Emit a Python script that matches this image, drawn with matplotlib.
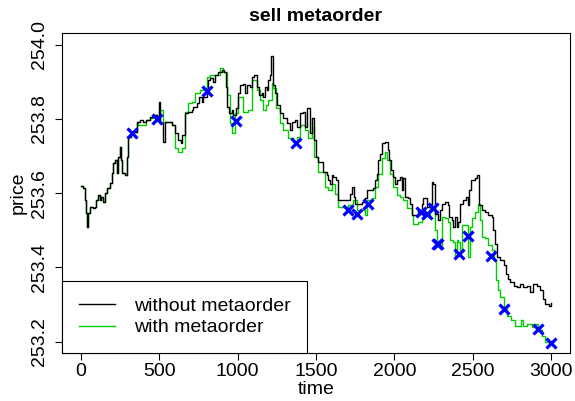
import matplotlib
matplotlib.use("Agg")
import matplotlib.pyplot as plt

plt.rcParams['font.family'] = ['Liberation Sans', 'DejaVu Sans']

# price path without the metaorder
t_without = [0, 15, 26, 36, 38, 47, 57, 79, 89, 100, 110, 121, 132, 140, 153, 164, 172, 185,
             196, 206, 217, 228, 238, 249, 255, 264, 281, 292, 302, 319, 334, 356, 377, 398,
             419, 440, 462, 483, 498, 504, 525, 536, 557, 579, 600, 621, 638, 647, 664, 685,
             707, 717, 739, 753, 770, 781, 802, 813, 823, 844, 855, 876, 898, 915, 924, 934,
             945, 962, 972, 987, 1000, 1015, 1036, 1047, 1058, 1079, 1090, 1106, 1121, 1136,
             1153, 1164, 1174, 1185, 1196, 1206, 1211, 1228, 1238, 1249, 1270, 1291, 1313,
             1334, 1345, 1366, 1377, 1398, 1419, 1430, 1440, 1462, 1476, 1489, 1498, 1515,
             1536, 1547, 1568, 1579, 1589, 1600, 1610, 1626, 1638, 1642, 1706, 1717, 1732,
             1743, 1749, 1792, 1813, 1824, 1866, 1877, 1887, 1898, 1908, 1919, 1940, 1958,
             1966, 1979, 1993, 2004, 2015, 2036, 2047, 2057, 2068, 2085, 2100, 2110, 2132,
             2153, 2175, 2185, 2207, 2228, 2238, 2249, 2260, 2281, 2292, 2302, 2323, 2340,
             2349, 2366, 2376, 2387, 2398, 2408, 2419, 2440, 2455, 2468, 2477, 2489, 2511,
             2526, 2536, 2540, 2558, 2579, 2600, 2621, 2632, 2643, 2653, 2674, 2696, 2711,
             2724, 2738, 2760, 2781, 2802, 2823, 2845, 2866, 2881, 2909, 2930, 2945, 2962,
             2983, 3000]
p_without = [253.619, 253.614, 253.581, 253.546, 253.509, 253.546, 253.563, 253.559, 253.563,
             253.581, 253.595, 253.581, 253.590, 253.576, 253.600, 253.614, 253.614, 253.627,
             253.654, 253.681, 253.689, 253.654, 253.698, 253.725, 253.689, 253.654, 253.649,
             253.698, 253.752, 253.762, 253.766, 253.793, 253.797, 253.793, 253.797, 253.806,
             253.811, 253.802, 253.847, 253.789, 253.739, 253.793, 253.793, 253.784, 253.762,
             253.743, 253.734, 253.757, 253.815, 253.820, 253.824, 253.833, 253.843, 253.860,
             253.847, 253.860, 253.869, 253.905, 253.910, 253.901, 253.919, 253.928, 253.932,
             253.928, 253.887, 253.833, 253.815, 253.824, 253.811, 253.829, 253.869, 253.892,
             253.895, 253.869, 253.892, 253.887, 253.914, 253.919, 253.887, 253.865, 253.869,
             253.860, 253.887, 253.878, 253.905, 253.919, 253.970, 253.892, 253.869, 253.838,
             253.815, 253.802, 253.788, 253.770, 253.793, 253.797, 253.779, 253.815, 253.820,
             253.779, 253.829, 253.761, 253.802, 253.743, 253.698, 253.685, 253.685, 253.658,
             253.649, 253.635, 253.626, 253.649, 253.644, 253.635, 253.608, 253.581, 253.581,
             253.599, 253.617, 253.590, 253.572, 253.576, 253.586, 253.608, 253.613, 253.635,
             253.653, 253.689, 253.707, 253.734, 253.739, 253.716, 253.689, 253.662, 253.644,
             253.626, 253.635, 253.644, 253.608, 253.640, 253.590, 253.586, 253.572, 253.541,
             253.541, 253.554, 253.572, 253.586, 253.563, 253.572, 253.631, 253.626, 253.545,
             253.527, 253.554, 253.572, 253.576, 253.568, 253.536, 253.527, 253.509, 253.536,
             253.509, 253.522, 253.572, 253.581, 253.590, 253.568, 253.608, 253.635, 253.640,
             253.649, 253.649, 253.568, 253.554, 253.550, 253.541, 253.536, 253.500, 253.464,
             253.428, 253.419, 253.405, 253.383, 253.369, 253.360, 253.351, 253.347, 253.356,
             253.347, 253.351, 253.333, 253.356, 253.351, 253.338, 253.315, 253.302, 253.297,
             253.304]

# price path with the metaorder
t_with = [0, 15, 26, 36, 38, 47, 57, 79, 89, 100, 110, 121, 132, 140, 153, 164, 172, 185,
          196, 206, 217, 228, 238, 249, 255, 264, 281, 292, 302, 319, 334, 356, 366, 398,
          419, 440, 462, 483, 498, 525, 557, 579, 600, 621, 643, 664, 685, 707, 728, 739,
          760, 781, 802, 823, 855, 887, 908, 930, 951, 966, 983, 1004, 1036, 1068, 1090,
          1106, 1121, 1143, 1164, 1179, 1196, 1217, 1228, 1243, 1270, 1291, 1323, 1355,
          1377, 1398, 1430, 1451, 1472, 1489, 1511, 1526, 1557, 1579, 1600, 1621, 1642,
          1685, 1706, 1738, 1760, 1792, 1813, 1824, 1855, 1877, 1898, 1919, 1940, 1951,
          1972, 1993, 2015, 2036, 2057, 2079, 2110, 2121, 2153, 2175, 2196, 2217, 2228,
          2243, 2260, 2270, 2292, 2302, 2323, 2345, 2355, 2376, 2387, 2398, 2408, 2419,
          2430, 2451, 2472, 2483, 2494, 2515, 2532, 2547, 2558, 2579, 2600, 2621, 2638,
          2647, 2664, 2674, 2696, 2717, 2745, 2770, 2791, 2809, 2823, 2845, 2877, 2898,
          2919, 2941, 2962, 2994, 3000]
p_with = [253.619, 253.614, 253.581, 253.546, 253.509, 253.546, 253.563, 253.559, 253.563,
          253.581, 253.595, 253.581, 253.590, 253.576, 253.600, 253.614, 253.614, 253.627,
          253.654, 253.681, 253.689, 253.654, 253.698, 253.725, 253.689, 253.654, 253.649,
          253.698, 253.752, 253.762, 253.766, 253.793, 253.784, 253.784, 253.797, 253.802,
          253.811, 253.806, 253.824, 253.793, 253.793, 253.784, 253.722, 253.712, 253.722,
          253.820, 253.843, 253.847, 253.869, 253.869, 253.878, 253.883, 253.914, 253.919,
          253.919, 253.937, 253.928, 253.865, 253.788, 253.761, 253.815, 253.860, 253.820,
          253.824, 253.905, 253.905, 253.878, 253.851, 253.824, 253.838, 253.851, 253.896,
          253.883, 253.829, 253.788, 253.770, 253.748, 253.739, 253.752, 253.784, 253.770,
          253.748, 253.779, 253.698, 253.658, 253.658, 253.617, 253.608, 253.626, 253.599,
          253.563, 253.563, 253.568, 253.581, 253.554, 253.554, 253.541, 253.581, 253.586,
          253.617, 253.653, 253.694, 253.712, 253.689, 253.653, 253.617, 253.595, 253.590,
          253.581, 253.559, 253.541, 253.518, 253.522, 253.536, 253.541, 253.536, 253.568,
          253.554, 253.500, 253.464, 253.459, 253.536, 253.532, 253.522, 253.473, 253.468,
          253.428, 253.473, 253.468, 253.446, 253.514, 253.514, 253.428, 253.509, 253.532,
          253.550, 253.572, 253.527, 253.482, 253.478, 253.459, 253.446, 253.419, 253.365,
          253.338, 253.320, 253.288, 253.270, 253.257, 253.243, 253.243, 253.257, 253.243,
          253.248, 253.239, 253.248, 253.230, 253.216, 253.198, 253.195, 253.197]

# metaorder child orders
t_trades = [327, 483, 806, 989, 1372, 1701, 1764, 1830, 2170, 2210, 2245, 2270, 2277,
            2414, 2467, 2616, 2700, 2918, 3000]
p_trades = [253.761, 253.799, 253.876, 253.795, 253.734, 253.555, 253.543, 253.570,
            253.549, 253.545, 253.561, 253.464, 253.462, 253.435, 253.484, 253.430,
            253.288, 253.234, 253.197]

fig = plt.figure(figsize=(5.75, 4.01), dpi=100)
ax = fig.add_axes([0.1078, 0.1197, 0.8835, 0.798])

ax.plot(t_with, p_with, drawstyle='steps-post', color='#00CD00', lw=1.0, label='with metaorder')
ax.plot(t_without, p_without, drawstyle='steps-post', color='black', lw=1.0, label='without metaorder')
ax.plot(t_trades, p_trades, 'x', color='#0000FF', ms=7, mew=2.3, ls='none')

ax.set_xlim(-120, 3120)
ax.set_ylim(253.169, 254.032)
ax.set_xticks([0, 500, 1000, 1500, 2000, 2500, 3000])
ax.set_yticks([253.2, 253.4, 253.6, 253.8, 254.0])
ax.set_yticklabels(['253.2', '253.4', '253.6', '253.8', '254.0'], rotation=90, va='center')
ax.tick_params(direction='out', length=5, width=0.8, labelsize=14, pad=2)
ax.tick_params(axis='y', pad=5)
for s in ax.spines.values():
    s.set_linewidth(0.8)

ax.set_xlabel("time", fontsize=14, labelpad=1)
ax.set_ylabel("price", fontsize=14, labelpad=3)
ax.set_title("sell metaorder", fontsize=14, fontweight='bold', pad=9)

h, l = ax.get_legend_handles_labels()
leg = ax.legend(h[::-1], l[::-1], loc='lower left', fontsize=14, frameon=True, fancybox=False,
                edgecolor='black', framealpha=1, borderaxespad=0, borderpad=0.85,
                handlelength=1.9, handletextpad=0.95, labelspacing=0.2)
leg.get_frame().set_linewidth(0.8)

fig.savefig("out.png", dpi=100)
